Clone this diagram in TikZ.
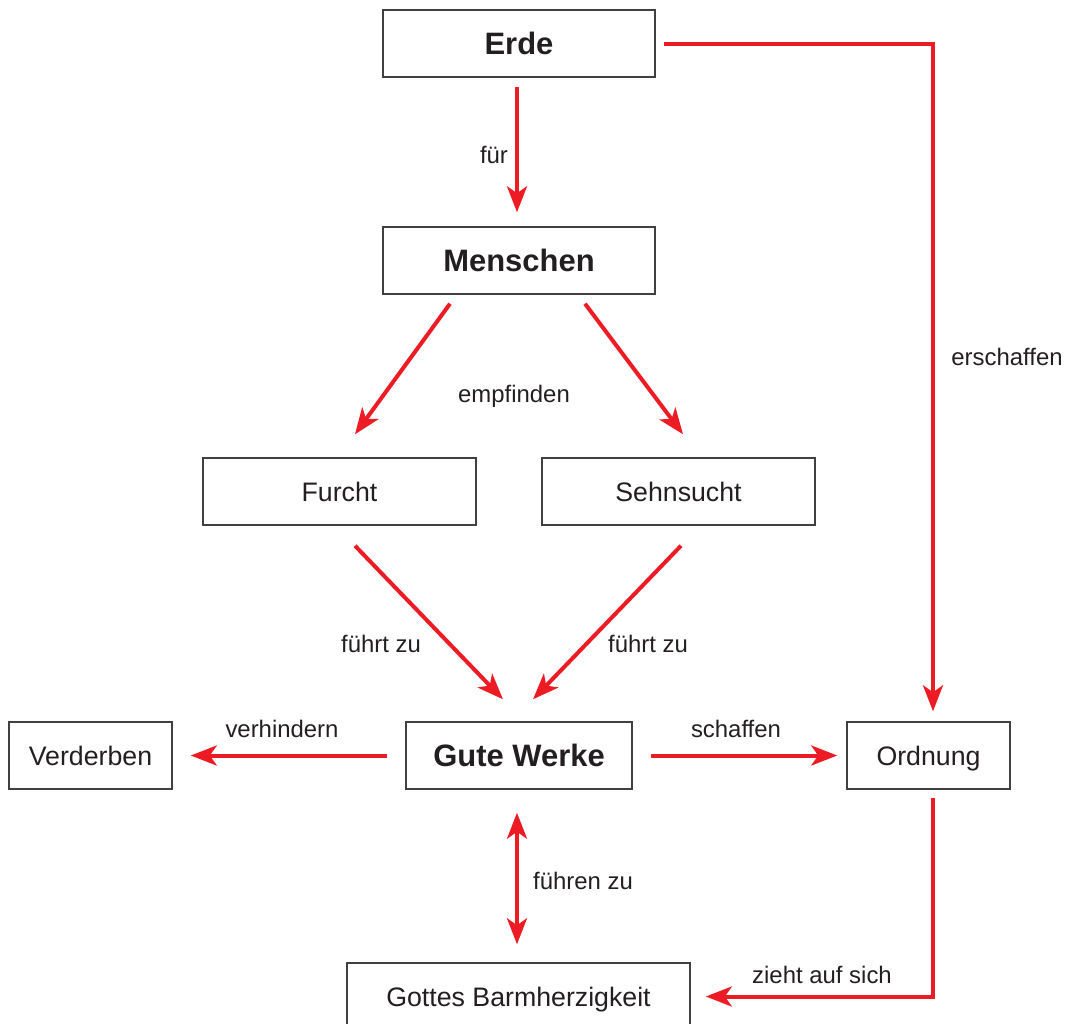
\documentclass[tikz,border=0pt]{standalone}
\usepackage{fontspec}
\setmainfont{Liberation Sans}
\usetikzlibrary{arrows.meta,calc}

\definecolor{pfeilrot}{RGB}{237,28,36}
\definecolor{textgrau}{RGB}{35,31,32}

\begin{document}
\begin{tikzpicture}[x=0.01cm,y=-0.01cm,
    box/.style={draw=black!75,line width=0.4pt,fill=white,inner sep=0pt,
      minimum height=0.67cm,text height=5.5pt,text depth=0pt,
      text=textgrau,font=\fontsize{7.6}{9}\selectfont},
    hbox/.style={box,text height=6.3pt,font=\fontsize{8.8}{10}\selectfont\bfseries},
    pfeil/.style={draw=pfeilrot,line width=0.04cm,-{Stealth[length=0.26cm,width=0.2cm,inset=0.07cm]}},
    dpfeil/.style={pfeil,{Stealth[length=0.26cm,width=0.2cm,inset=0.07cm]}-{Stealth[length=0.26cm,width=0.2cm,inset=0.07cm]}},
    lbl/.style={inner sep=0pt,text=textgrau,font=\fontsize{6.8}{8}\selectfont}]
  \useasboundingbox (0,0) rectangle (1066,1023) ;
  % Kaesten
  \node[hbox,minimum width=2.72cm] (erde) at (519,43.5) {Erde} ;
  \node[hbox,minimum width=2.72cm] (menschen) at (519,260.5) {Menschen} ;
  \node[box,minimum width=2.73cm] (furcht) at (339.5,491.5) {Furcht} ;
  \node[box,minimum width=2.73cm] (sehnsucht) at (678.5,491.5) {Sehnsucht} ;
  \node[box,minimum width=1.63cm] (verderben) at (90.5,755.5) {Verderben} ;
  \node[hbox,minimum width=2.26cm] (werke) at (519,755.5) {Gute Werke} ;
  \node[box,minimum width=1.63cm] (ordnung) at (928.5,755.5) {Ordnung} ;
  \node[box,minimum width=3.43cm] (gnade) at (518.5,996.5) {Gottes Barmherzigkeit} ;
  % Pfeile
  \draw[pfeil,shorten <=0.09cm,shorten >=0.14cm] ($(erde.south)+(-2,0)$) -- ($(menschen.north)+(-2,0)$) ;
  \draw[pfeil] ($(menschen.south)+(-69,9)$) -- ($(furcht.north)+(15.5,-23)$) ;
  \draw[pfeil] ($(menschen.south)+(66,9)$) -- ($(sehnsucht.north)+(4.5,-23)$) ;
  \draw[pfeil] ($(furcht.south)+(15.5,20)$) -- ($(werke.north)+(-16,-22)$) ;
  \draw[pfeil] ($(sehnsucht.south)+(2.5,20)$) -- ($(werke.north)+(14,-22)$) ;
  \draw[pfeil,shorten <=0.18cm,shorten >=0.18cm] (werke.west) -- (verderben.east) ;
  \draw[pfeil,shorten <=0.18cm,shorten >=0.09cm] (werke.east) -- (ordnung.west) ;
  \draw[pfeil,shorten <=0.08cm,shorten >=0.1cm] (erde.east) -| ($(ordnung.north)+(4.5,0)$) ;
  \draw[pfeil,shorten <=0.08cm,shorten >=0.15cm] ($(ordnung.south)+(4.5,0)$) |- (gnade.east) ;
  \draw[dpfeil,shorten <=0.23cm,shorten >=0.18cm] ($(werke.south)+(-2,0)$) -- ($(gnade.north)+(-1.5,0)$) ;
  % Beschriftungen
  \node[lbl] (lfuer) at (494,155) {für} ;
  \node[lbl] (lempf) at (514,396) {empfinden} ;
  \node[lbl] (lfuehrt1) at (381,644) {führt zu} ;
  \node[lbl] (lfuehrt2) at (648,644) {führt zu} ;
  \node[lbl] (lverh) at (282,729) {verhindern} ;
  \node[lbl] (lschaff) at (736,729) {schaffen} ;
  \node[lbl] (lerschaff) at (1007,357) {erschaffen} ;
  \node[lbl] (lfuehren) at (583,881) {führen zu} ;
  \node[lbl] (lzieht) at (822,975) {zieht auf sich} ;
\end{tikzpicture}
\end{document}
